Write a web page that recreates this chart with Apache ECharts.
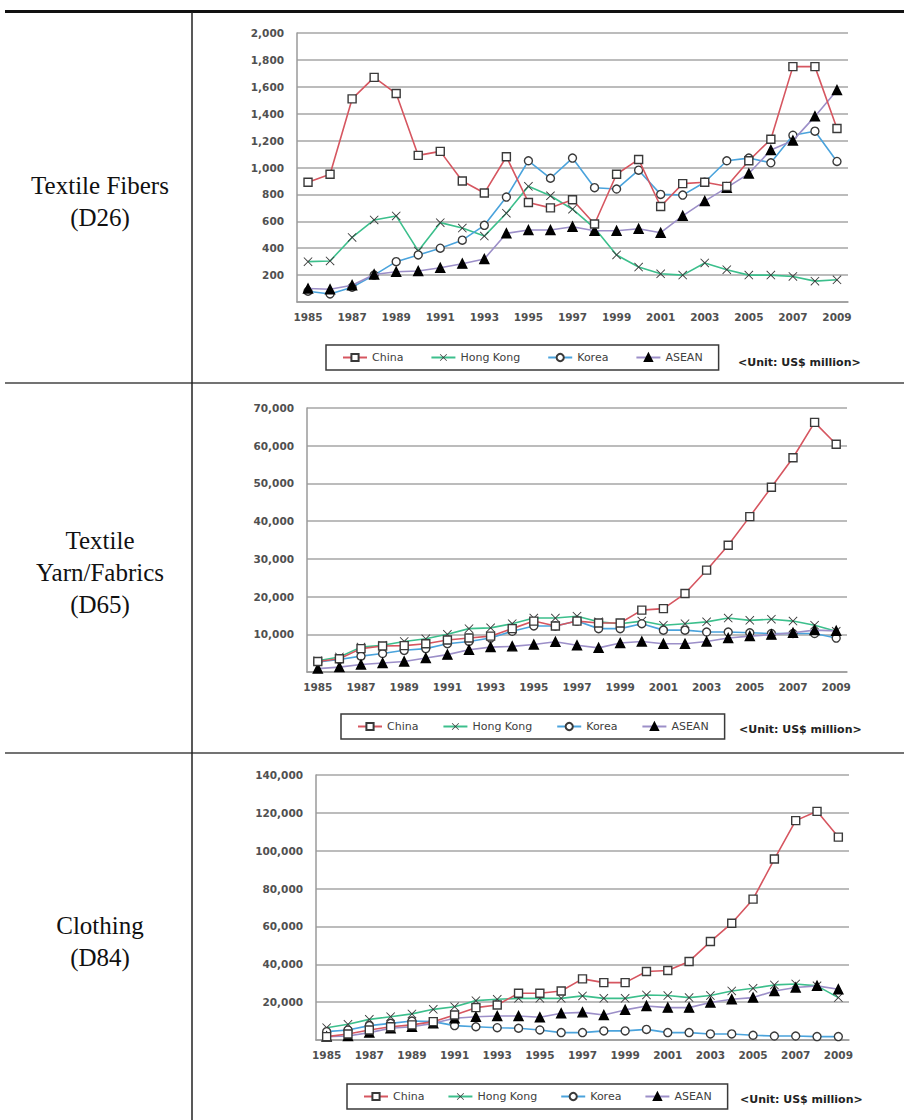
<!DOCTYPE html>
<html>
<head>
<meta charset="utf-8">
<script src="https://cdn.jsdelivr.net/npm/echarts@6/dist/echarts.min.js"></script>
<style>
html, body { margin: 0; padding: 0; background: #fff; }
#main { width: 904px; height: 1120px; }
</style>
</head>
<body>
<div id="main"></div>
<script>
var years = ['1985', '1986', '1987', '1988', '1989', '1990', '1991', '1992', '1993', '1994', '1995', '1996', '1997',
    '1998', '1999', '2000', '2001', '2002', '2003', '2004', '2005', '2006', '2007', '2008', '2009'];
var seriesNames = ['China', 'Hong Kong', 'Korea', 'ASEAN'];
var rowLabels = [['Textile Fibers', '(D26)'], ['Textile', 'Yarn/Fabrics', '(D65)'], ['Clothing', '(D84)']];
var unitText = '<Unit: US$ million>';

// Textile Fibers (D26)
var fibersChina = [890, 950, 1510, 1670, 1550, 1090, 1120, 900, 810, 1080, 740, 700, 760, 580, 950, 1060, 710, 880, 890, 860, 1050, 1210, 1750, 1750, 1290];
var fibersHK = [300, 305, 480, 610, 640, 380, 590, 550, 490, 660, 860, 790, 690, 550, 350, 260, 210, 200, 290, 240, 200, 200, 190, 155, 165];
var fibersKorea = [80, 60, 110, 200, 300, 350, 400, 460, 570, 780, 1050, 920, 1070, 850, 840, 980, 800, 795, 890, 1050, 1070, 1035, 1240, 1270, 1045];
var fibersAsean = [100, 95, 125, 205, 225, 230, 255, 285, 320, 510, 535, 535, 560, 530, 530, 545, 515, 640, 750, 850, 955, 1130, 1200, 1380, 1575];

// Textile Yarn/Fabrics (D65)
var yarnChina = [2800, 3500, 6200, 6900, 7000, 7500, 8500, 9000, 9500, 11500, 13500, 12200, 13500, 13000, 13000, 16400, 16800, 20800, 27000, 33600, 41200, 49000, 56800, 66200, 60400];
var yarnHK = [3000, 4000, 6600, 7100, 8100, 8800, 10000, 11500, 11700, 12800, 14300, 14300, 14800, 13300, 12800, 13500, 12400, 12800, 13300, 14300, 13700, 14000, 13500, 12400, 10800];
var yarnKorea = [2650, 3300, 4200, 4900, 5750, 6200, 7500, 8100, 9000, 10800, 12200, 12200, 13500, 11500, 11500, 12800, 11100, 11100, 10600, 10600, 10400, 10200, 10200, 10200, 9000];
var yarnAsean = [900, 1300, 2000, 2400, 2800, 3700, 4600, 5900, 6600, 6800, 7300, 8000, 7100, 6400, 7700, 8100, 7500, 7500, 8100, 9000, 9500, 9900, 10400, 11100, 10900];

// Clothing (D84)
var clothChina = [1800, 3200, 5300, 7000, 8000, 9700, 13200, 17100, 18500, 24700, 24700, 25900, 32300, 30300, 30300, 36200, 36700, 41500, 52000, 61700, 74400, 95600, 115900, 120800, 107200];
var clothHK = [6500, 8300, 10900, 12300, 13800, 16200, 17600, 20800, 21500, 22000, 22000, 22000, 23300, 22000, 22000, 23800, 23500, 22400, 23500, 25900, 27300, 29100, 29600, 28600, 22400];
var clothKorea = [4400, 5300, 7600, 8800, 10000, 9700, 7600, 7000, 6500, 6200, 5300, 3900, 3900, 4800, 4800, 5600, 3900, 3900, 3200, 3200, 2500, 2100, 2100, 1800, 1800];
var clothAsean = [1800, 2100, 3900, 6200, 7000, 8800, 11500, 12300, 12700, 12700, 12000, 14100, 14600, 13200, 15900, 18000, 17100, 17100, 19800, 21500, 22400, 25900, 27700, 28600, 26800];

var axisMax = [2000, 70000, 140000];
var axisStep = [200, 10000, 20000];

var dom = document.getElementById('main');
var myChart = echarts.init(dom, null, { renderer: 'svg' });

var lineColors = ['#d65660', '#3cbf8c', '#4aa3dc', '#9c8fc8'];
var markDark = '#3a3a3a';
// thin "x" marker
var crossPath = 'path://M0,0.7L0.7,0L5,4.3L9.3,0L10,0.7L5.7,5L10,9.3L9.3,10L5,5.7L0.7,10L0,9.3L4.3,5Z';
var symbols = ['rect', crossPath, 'circle', 'triangle'];
var symbolSizes = [8, 9, 8, 9];
var markFill = ['#fff', markDark, '#fff', '#000'];

var grids = [
    { left: 297, right: 56, top: 33, height: 269 },
    { left: 307, right: 57, top: 408, height: 264 },
    { left: 316, right: 55, top: 775, height: 265 }
];
var legendPos = [
    { left: 326, top: 345, gap: 27 },
    { left: 341, top: 714, gap: 24 },
    { left: 347, top: 1084, gap: 23 }
];
var unitPos = [[738, 362], [739, 729], [740, 1099]];
var allData = [
    [fibersChina, fibersHK, fibersKorea, fibersAsean],
    [yarnChina, yarnHK, yarnKorea, yarnAsean],
    [clothChina, clothHK, clothKorea, clothAsean]
];

var axisFont = { color: '#505050', fontFamily: 'DejaVu Sans', fontSize: 10.5, fontWeight: 'bold' };

var xAxes = [], yAxes = [], series = [], legends = [];
for (var g = 0; g < 3; g++) {
    xAxes.push({
        type: 'category',
        gridIndex: g,
        data: years,
        boundaryGap: true,
        axisLine: { lineStyle: { color: '#9a9a9a', width: 1.5 } },
        axisTick: { alignWithLabel: true, interval: 0, length: 5, lineStyle: { color: '#9a9a9a', width: 1.2 } },
        axisLabel: Object.assign({ interval: 1, margin: 9 }, axisFont)
    });
    yAxes.push({
        type: 'value',
        gridIndex: g,
        min: 0,
        max: axisMax[g],
        interval: axisStep[g],
        axisLine: { show: true, lineStyle: { color: '#9a9a9a', width: 1.5 } },
        axisTick: { show: false },
        splitLine: { lineStyle: { color: '#a6a6a6', width: 1.5 } },
        axisLabel: Object.assign({
            margin: 13,
            formatter: function (v) { return v === 0 ? '' : v.toLocaleString('en-US'); }
        }, axisFont)
    });
    for (var s = 0; s < 4; s++) {
        series.push({
            name: seriesNames[s],
            type: 'line',
            xAxisIndex: g,
            yAxisIndex: g,
            data: allData[g][s],
            symbol: symbols[s],
            symbolSize: symbolSizes[s],
            showAllSymbol: true,
            lineStyle: { color: lineColors[s], width: 1.6 },
            itemStyle: {
                color: markFill[s],
                borderColor: s === 3 ? '#000' : markDark,
                borderWidth: s === 1 ? 0 : 1.4
            },
            z: s === 0 ? 5 : (s === 3 ? 4 : 3)
        });
    }
    legends.push({
        data: seriesNames,
        left: legendPos[g].left,
        top: legendPos[g].top,
        orient: 'horizontal',
        itemWidth: 24,
        itemHeight: 9,
        itemGap: legendPos[g].gap,
        padding: [7, 16],
        borderColor: '#3a3a3a',
        borderWidth: 1.5,
        selectedMode: false,
        textStyle: { color: '#404040', fontFamily: 'DejaVu Sans', fontSize: 11 }
    });
}

var graphics = [
    { type: 'rect', shape: { x: 5, y: 10, width: 899, height: 3 }, style: { fill: '#111' } },
    { type: 'line', shape: { x1: 5, y1: 383, x2: 904, y2: 383 }, style: { stroke: '#444', lineWidth: 1.6 } },
    { type: 'line', shape: { x1: 5, y1: 753, x2: 904, y2: 753 }, style: { stroke: '#444', lineWidth: 1.6 } },
    { type: 'line', shape: { x1: 192, y1: 12, x2: 192, y2: 1120 }, style: { stroke: '#222', lineWidth: 1.5 } }
];
var labelY = [[185, 217], [540, 572, 604], [925, 957]];
for (var r = 0; r < 3; r++) {
    for (var k = 0; k < rowLabels[r].length; k++) {
        graphics.push({
            type: 'text', x: 100, y: labelY[r][k],
            style: {
                text: rowLabels[r][k], fill: '#111', font: '25px "Liberation Serif"',
                align: 'center', verticalAlign: 'middle'
            }
        });
    }
    graphics.push({
        type: 'text', x: unitPos[r][0], y: unitPos[r][1],
        style: {
            text: unitText, fill: '#222', font: 'bold 11px "DejaVu Sans"',
            align: 'left', verticalAlign: 'middle'
        }
    });
}

var option = {
    animation: false,
    backgroundColor: '#fff',
    grid: grids,
    xAxis: xAxes,
    yAxis: yAxes,
    legend: legends,
    series: series,
    graphic: graphics
};
myChart.setOption(option);
</script>
</body>
</html>
